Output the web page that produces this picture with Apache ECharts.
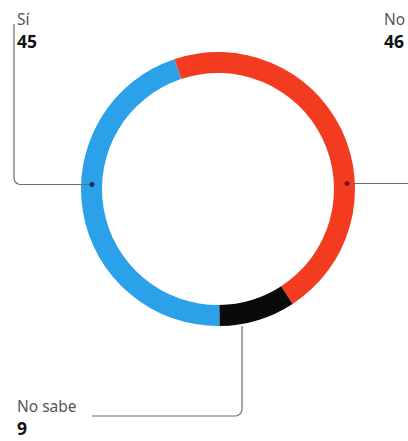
<!DOCTYPE html>
<html><head><meta charset="utf-8">
<script src="https://cdn.jsdelivr.net/npm/echarts@6/dist/echarts.min.js"></script>
<style>html,body{margin:0;padding:0;background:#fff}#c{width:408px;height:441px}</style>
</head><body><div id="c"></div>
<script>
const categories = ['No', 'No sabe', 'Sí'];
const values = [46, 9, 45];
const colors = ['#f23b1f', '#0a0a0a', '#2ba1ea'];

const labelPos = [
  {x: 384, y: 8},
  {x: 17, y: 395},
  {x: 17, y: 8}
];

function corner(cx, cy, r, a0, a1) {
  const pts = [];
  for (let k = 0; k <= 6; k++) {
    const a = (a0 + (a1 - a0) * k / 6) * Math.PI / 180;
    pts.push([cx + r * Math.cos(a), cy + r * Math.sin(a)]);
  }
  return pts;
}

const chart = echarts.init(document.getElementById('c'), null, {renderer: 'svg'});
const lineStyle = {stroke: '#6a6a6a', lineWidth: 1.2, fill: null};
const siLine = [[14, 24]].concat(corner(20.5, 178, 6.5, 180, 90)).concat([[92, 184.5]]);
const nsLine = [[242, 326]].concat(corner(235, 409, 7, 0, 90)).concat([[92, 416]]);
chart.setOption({
  animation: false,
  series: [{
    type: 'pie',
    center: [218, 189],
    radius: [116, 137],
    startAngle: 108.6,
    clockwise: true,
    avoidLabelOverlap: false,
    silent: true,
    z: 1,
    data: categories.map((c, i) => ({name: c, value: values[i], itemStyle: {color: colors[i]}})),
    label: {
      show: true,
      formatter: p => '{n|' + p.name + '}\n{v|' + p.value + '}',
      rich: {
        n: {fontFamily: 'Noto Sans', fontSize: 15.5, color: '#555', lineHeight: 22},
        v: {fontFamily: 'Noto Sans', fontSize: 17.5, fontWeight: 'bold', color: '#111', lineHeight: 22}
      }
    },
    labelLine: {show: false},
    labelLayout: p => ({x: labelPos[p.dataIndex].x, y: labelPos[p.dataIndex].y, align: 'left', verticalAlign: 'top'})
  }],
  graphic: [
    {type: 'polyline', z: 100, shape: {points: siLine}, style: lineStyle},
    {type: 'line', z: 100, shape: {x1: 347, y1: 183.5, x2: 408, y2: 183.5}, style: lineStyle},
    {type: 'polyline', z: 100, shape: {points: nsLine}, style: lineStyle},
    {type: 'circle', z: 101, shape: {cx: 92, cy: 184.5, r: 2.5}, style: {fill: '#14305a'}},
    {type: 'circle', z: 101, shape: {cx: 347, cy: 183.5, r: 2.5}, style: {fill: '#8a0a0a'}}
  ]
});
</script></body></html>
